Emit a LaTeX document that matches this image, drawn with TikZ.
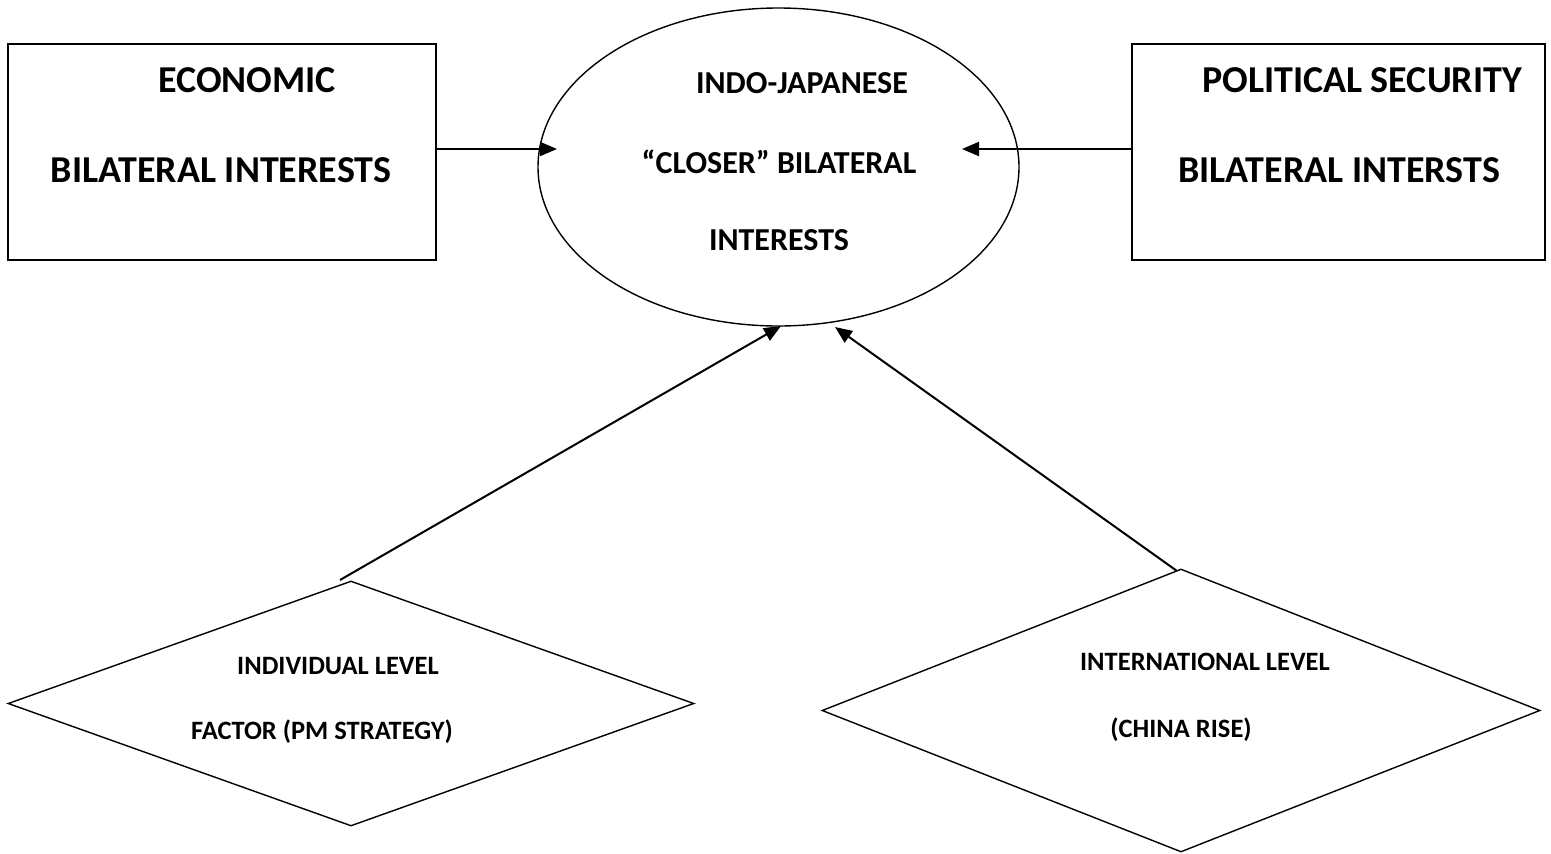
\documentclass[tikz,border=0pt]{standalone}
\usepackage{fontspec}
\setmainfont{Carlito}
\usetikzlibrary{shapes.geometric,arrows.meta}
\tikzset{
  boxshape/.style={draw, line width=1.4pt, rectangle, inner sep=0pt},
  ovalshape/.style={draw, line width=1.4pt, ellipse, inner sep=0pt},
  kiteshape/.style={draw, line width=1.4pt, diamond, inner sep=0pt},
  bigtxt/.style={anchor=base, inner sep=0pt, font=\fontsize{38}{42}\selectfont\bfseries},
  midtxt/.style={anchor=base, inner sep=0pt, font=\fontsize{32}{36}\selectfont\bfseries},
  smalltxt/.style={anchor=base, inner sep=0pt, font=\fontsize{26.5}{30}\selectfont\bfseries},
  arr/.style={line width=2pt, -{Triangle[length=17pt,width=14pt]}}
}
\begin{document}
\begin{tikzpicture}[x=1pt,y=-1pt]
\useasboundingbox (0,0) rectangle (1551,854);
% shapes
\node[boxshape, minimum width=428pt, minimum height=216pt] (econ) at (222,152) {};
\node[boxshape, minimum width=413pt, minimum height=216pt] (pol) at (1338.5,152) {};
\node[ovalshape, minimum width=481pt, minimum height=318pt] (core) at (778.5,167) {};
\node[kiteshape, minimum width=686pt, minimum height=245pt] (indiv) at (351,703.5) {};
\node[kiteshape, minimum width=718pt, minimum height=283pt] (intl) at (1181,710.5) {};
% texts
\node[bigtxt] (econA) at (247,92) {ECONOMIC};
\node[bigtxt] (econB) at (221,182) {BILATERAL INTERESTS};
\node[bigtxt] (polA) at (1362,92) {POLITICAL SECURITY};
\node[bigtxt] (polB) at (1339,182) {BILATERAL INTERSTS};
\node[midtxt] (coreA) at (802,93) {INDO-JAPANESE};
\node[midtxt] (coreB) at (779,173) {“CLOSER” BILATERAL};
\node[midtxt] (coreC) at (779,250) {INTERESTS};
\node[smalltxt] (indivA) at (338,674) {INDIVIDUAL LEVEL};
\node[smalltxt] (indivB) at (322,739) {FACTOR (PM STRATEGY)};
\node[smalltxt] (intlA) at (1205,670) {INTERNATIONAL LEVEL};
\node[smalltxt] (intlB) at (1181,737) {(CHINA RISE)};
% connector end points
\coordinate (coreL) at (557,149);
\coordinate (coreR) at (962,149);
\coordinate (coreB1) at (781,326);
\coordinate (coreB2) at (835,327);
\coordinate (indivTop) at (340,580);
\coordinate (intlTop) at (1177,571);
% connectors
\draw[arr] (econ.east |- coreL) -- (coreL);
\draw[arr] (pol.west |- coreR) -- (coreR);
\draw[arr] (indivTop) -- (coreB1);
\draw[arr] (intlTop) -- (coreB2);
\end{tikzpicture}
\end{document}
